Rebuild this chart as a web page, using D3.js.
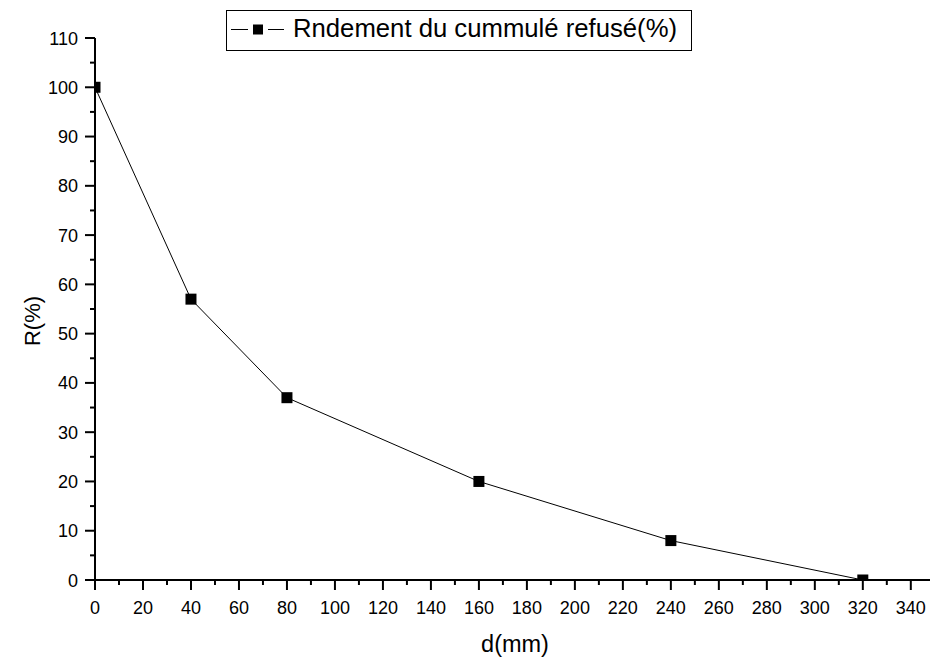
<!DOCTYPE html>
<html><head><meta charset="utf-8">
<script src="https://cdn.jsdelivr.net/npm/d3@7"></script>
<style>body{margin:0;background:#fff}svg{display:block}text{font-family:"Liberation Sans",Arial,sans-serif}</style>
</head><body>
<svg id="c" width="930" height="659"></svg>
<script>
const xValues = [0, 40, 80, 160, 240, 320];
const yValues = [100, 57, 37, 20, 8, 0];
const seriesName = "Rndement du cummulé refusé(%)";
const xTicks = [0,20,40,60,80,100,120,140,160,180,200,220,240,260,280,300,320,340];
const yTicks = [0,10,20,30,40,50,60,70,80,90,100,110];
const xTitle = "d(mm)";
const yTitle = "R(%)";

const svg = d3.select("#c");
const L = 95, R = 930, T = 38, B = 580;
const x = d3.scaleLinear().domain([0, 348]).range([L, R]);
const y = d3.scaleLinear().domain([0, 110]).range([B, T]);

svg.append("defs").append("clipPath").attr("id","clip")
  .append("rect").attr("x", L).attr("y", T-10).attr("width", R-L).attr("height", B-T+10);

const g = svg.append("g").attr("clip-path","url(#clip)");
const line = d3.line().x((d,i)=>x(xValues[i])).y(d=>y(d));
g.append("path").datum(yValues).attr("d", line).attr("fill","none").attr("stroke","#000").attr("stroke-width",1);
g.selectAll("rect.m").data(yValues).join("rect").attr("class","m")
  .attr("x",(d,i)=>x(xValues[i])-5.5).attr("y",d=>y(d)-5.5).attr("width",11).attr("height",11).attr("fill","#000");

// X axis
const xMinor = d3.range(10, 350, 20);
const xa = svg.append("g").attr("transform",`translate(0,${B})`);
xa.append("line").attr("x1",L-1).attr("x2",R).attr("stroke","#000").attr("stroke-width",2);
xa.selectAll("line.mj").data(xTicks).join("line").attr("class","mj")
  .attr("x1",d=>x(d)).attr("x2",d=>x(d)).attr("y1",0).attr("y2",10).attr("stroke","#000").attr("stroke-width",2);
xa.selectAll("line.mn").data(xMinor).join("line").attr("class","mn")
  .attr("x1",d=>x(d)).attr("x2",d=>x(d)).attr("y1",0).attr("y2",5).attr("stroke","#000").attr("stroke-width",2);
xa.selectAll("text").data(xTicks).join("text").attr("x",d=>x(d)).attr("y",34)
  .attr("text-anchor","middle").attr("font-size",18).text(d=>d);

// Y axis
const yMinor = d3.range(5, 110, 10);
const ya = svg.append("g").attr("transform",`translate(${L},0)`);
ya.append("line").attr("y1",T).attr("y2",B+1).attr("stroke","#000").attr("stroke-width",2);
ya.selectAll("line.mj").data(yTicks).join("line").attr("class","mj")
  .attr("y1",d=>y(d)).attr("y2",d=>y(d)).attr("x1",0).attr("x2",-10).attr("stroke","#000").attr("stroke-width",2);
ya.selectAll("line.mn").data(yMinor).join("line").attr("class","mn")
  .attr("y1",d=>y(d)).attr("y2",d=>y(d)).attr("x1",0).attr("x2",-5).attr("stroke","#000").attr("stroke-width",2);
ya.selectAll("text").data(yTicks).join("text").attr("x",-17).attr("y",d=>y(d)+6.5)
  .attr("text-anchor","end").attr("font-size",18).text(d=>d);

// Titles
svg.append("text").attr("x",515).attr("y",652).attr("text-anchor","middle").attr("font-size",23.5).text(xTitle);
svg.append("text").attr("transform","translate(40,321) rotate(-90)").attr("text-anchor","middle").attr("font-size",22).text(yTitle);

// Legend
const lg = svg.append("g");
lg.append("rect").attr("x",226.5).attr("y",10.5).attr("width",465).attr("height",40).attr("fill","#fff").attr("stroke","#000").attr("stroke-width",1);
lg.append("line").attr("x1",231).attr("x2",248).attr("y1",29.5).attr("y2",29.5).attr("stroke","#000").attr("stroke-width",1);
lg.append("line").attr("x1",268).attr("x2",284).attr("y1",29.5).attr("y2",29.5).attr("stroke","#000").attr("stroke-width",1);
lg.append("rect").attr("x",253).attr("y",24.5).attr("width",10).attr("height",10).attr("fill","#000");
lg.append("text").attr("x",293).attr("y",37).attr("font-size",25.7).text(seriesName);
</script>
</body></html>
